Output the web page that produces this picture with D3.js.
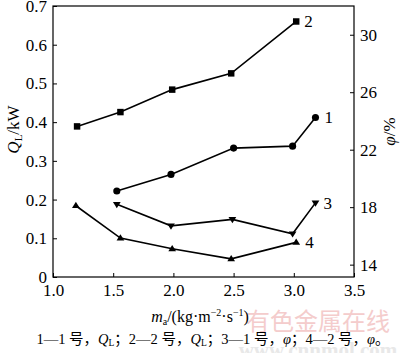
<!DOCTYPE html>
<html>
<head>
<meta charset="utf-8">
<script src="https://cdn.jsdelivr.net/npm/d3@7"></script>
<style>
  body { margin: 0; background: #fff; }
  svg, svg text { font-family: "Liberation Serif", "Times New Roman", "DejaVu Serif", serif; }
  svg text.cjk { font-family: "Liberation Serif", "Noto Sans CJK SC", serif; }
  svg text.wm { font-family: "Noto Sans CJK SC", sans-serif; }
</style>
</head>
<body>
<div id="chart"></div>
<script>
// values
const xTicks = [1.0, 1.5, 2.0, 2.5, 3.0, 3.5];
const qTicks = [0, 0.1, 0.2, 0.3, 0.4, 0.5, 0.6, 0.7];
const phiTicks = [14, 18, 22, 26, 30];

const s1x = [1.53, 1.98, 2.50, 2.99, 3.18];
const s1y = [0.222, 0.265, 0.333, 0.338, 0.412];   // 1号 Q_L
const s2x = [1.20, 1.56, 1.99, 2.48, 3.02];
const s2y = [0.389, 0.426, 0.484, 0.526, 0.660];   // 2号 Q_L
const s3x = [1.53, 1.98, 2.49, 2.99, 3.18];
const s3y = [18.2, 16.7, 17.15, 16.15, 18.3];      // 1号 φ
const s4x = [1.19, 1.56, 1.99, 2.48, 3.02];
const s4y = [18.1, 15.85, 15.1, 14.4, 15.55];      // 2号 φ

const width = 400, height = 353;
const m = {left: 53, right: 46, top: 6, bottom: 76};
const iw = width - m.left - m.right, ih = height - m.top - m.bottom;

const x = d3.scaleLinear().domain([1.0, 3.5]).range([m.left, m.left + iw]);
const yL = d3.scaleLinear().domain([0, 0.7]).range([m.top + ih, m.top]);
const yR = d3.scaleLinear().domain([13.14, 32.0]).range([m.top + ih, m.top]);

const svg = d3.select("#chart").append("svg")
    .attr("width", width).attr("height", height);

// watermark first so it sits underneath
svg.append("text").attr("class", "wm")
    .attr("x", 318).attr("y", 330).attr("text-anchor", "middle")
    .attr("font-size", 24).attr("fill", "#f4cccc")
    .text("有色金属在线");
svg.append("text")
    .attr("x", 318).attr("y", 357).attr("text-anchor", "middle")
    .attr("font-size", 21).attr("fill", "#e8e8e8").attr("font-weight", "bold")
    .text("www.cnnmol.com");

// frame
svg.append("rect")
    .attr("x", m.left).attr("y", m.top)
    .attr("width", iw).attr("height", ih)
    .attr("fill", "none").attr("stroke", "#000").attr("stroke-width", 1.2);

const fmt1 = d3.format(".1f");
svg.append("g")
    .attr("transform", `translate(0,${m.top + ih})`)
    .call(d3.axisBottom(x).tickValues(xTicks).tickFormat(fmt1).tickSizeInner(-4).tickSizeOuter(0).tickPadding(7))
    .call(g => g.select(".domain").remove());

svg.append("g")
    .attr("transform", `translate(${m.left},0)`)
    .call(d3.axisLeft(yL).tickValues(qTicks).tickFormat(d => d === 0 ? "0" : fmt1(d)).tickSizeInner(-4).tickSizeOuter(0).tickPadding(6))
    .call(g => g.select(".domain").remove());

svg.append("g")
    .attr("transform", `translate(${m.left + iw},0)`)
    .call(d3.axisRight(yR).tickValues(phiTicks).tickSizeInner(-4).tickSizeOuter(0).tickPadding(6))
    .call(g => g.select(".domain").remove());

svg.selectAll(".tick text").attr("font-size", 17).attr("fill", "#000")
    .style("font-family", '"Liberation Serif", "Times New Roman", serif');
svg.selectAll(".tick line").attr("stroke", "#000");

// series
const line = d3.line();
function series(xs, ys, yScale, shape, size) {
  const pts = xs.map((v, i) => [x(v), yScale(ys[i])]);
  svg.append("path").attr("d", line(pts))
      .attr("fill", "none").attr("stroke", "#000").attr("stroke-width", 1.6);
  svg.append("g").selectAll("path").data(pts).join("path")
      .attr("transform", d => `translate(${d[0]},${d[1]})`)
      .attr("d", d3.symbol().type(shape).size(size))
      .attr("fill", "#000");
}
const triDown = {
  draw(ctx, size) {
    const s = Math.sqrt(size / 0.433) / 2;
    ctx.moveTo(-s, -s * 0.6);
    ctx.lineTo(s, -s * 0.6);
    ctx.lineTo(0, s * 1.0);
    ctx.closePath();
  }
};
const triUp = {
  draw(ctx, size) {
    const s = Math.sqrt(size / 0.433) / 2;
    ctx.moveTo(-s, s * 0.6);
    ctx.lineTo(s, s * 0.6);
    ctx.lineTo(0, -s * 1.0);
    ctx.closePath();
  }
};
series(s2x, s2y, yL, d3.symbolSquare, 42);
series(s1x, s1y, yL, d3.symbolCircle, 40);
series(s3x, s3y, yR, triDown, 26);
series(s4x, s4y, yR, triUp, 26);

// curve numbers
const nums = [
  ["2", s2x[4], s2y[4], yL, 8, 6],
  ["1", s1x[4], s1y[4], yL, 9, 6],
  ["3", s3x[4], s3y[4], yR, 8, 6],
  ["4", s4x[4], s4y[4], yR, 9, 6]
];
svg.append("g").selectAll("text").data(nums).join("text")
    .attr("x", d => x(d[1]) + d[4])
    .attr("y", d => d[3](d[2]) + d[5])
    .attr("font-size", 17)
    .text(d => d[0]);

// axis titles
const lt = svg.append("text")
    .attr("transform", `translate(19,${m.top + ih / 2 - 12}) rotate(-90)`)
    .attr("text-anchor", "middle").attr("font-size", 17);
lt.append("tspan").attr("font-style", "italic").text("Q");
lt.append("tspan").attr("font-size", 11).attr("dy", 3).text("L");
lt.append("tspan").attr("dy", -3).text("/kW");

const rt = svg.append("text")
    .attr("transform", `translate(395,${m.top + ih / 2 - 10}) rotate(-90)`)
    .attr("text-anchor", "middle").attr("font-size", 17);
rt.append("tspan").attr("font-style", "italic").text("φ");
rt.append("tspan").text("/%");

const xt = svg.append("text")
    .attr("x", 200).attr("y", 322).attr("text-anchor", "middle").attr("font-size", 16);
xt.append("tspan").attr("font-style", "italic").text("m");
xt.append("tspan").attr("font-size", 10).attr("dy", 3).text("a");
xt.append("tspan").attr("dy", -3).text("/(kg·m");
xt.append("tspan").attr("font-size", 10).attr("dy", -6).text("−2");
xt.append("tspan").attr("dy", 6).text("·s");
xt.append("tspan").attr("font-size", 10).attr("dy", -6).text("−1");
xt.append("tspan").attr("dy", 6).text(")");

// caption
const cap = svg.append("text").attr("class", "cjk")
    .attr("x", 213).attr("y", 344).attr("text-anchor", "middle").attr("font-size", 14.5);
const parts = [
  ["1—1 号，", null], ["Q", "i"], ["L", "s"], ["；2—2 号，", null], ["Q", "i"], ["L", "s"],
  ["；3—1 号，", null], ["φ", "i"], ["；4—2 号，", null], ["φ", "i"], ["。", null]
];
let sub = false;
parts.forEach(([t, k]) => {
  const ts = cap.append("tspan").text(t);
  if (k === "i") ts.attr("font-style", "italic");
  if (k === "s") { ts.attr("font-size", 9.5).attr("dy", 2); sub = true; }
  else if (sub) { ts.attr("dy", -2); sub = false; }
});
</script>
</body>
</html>
